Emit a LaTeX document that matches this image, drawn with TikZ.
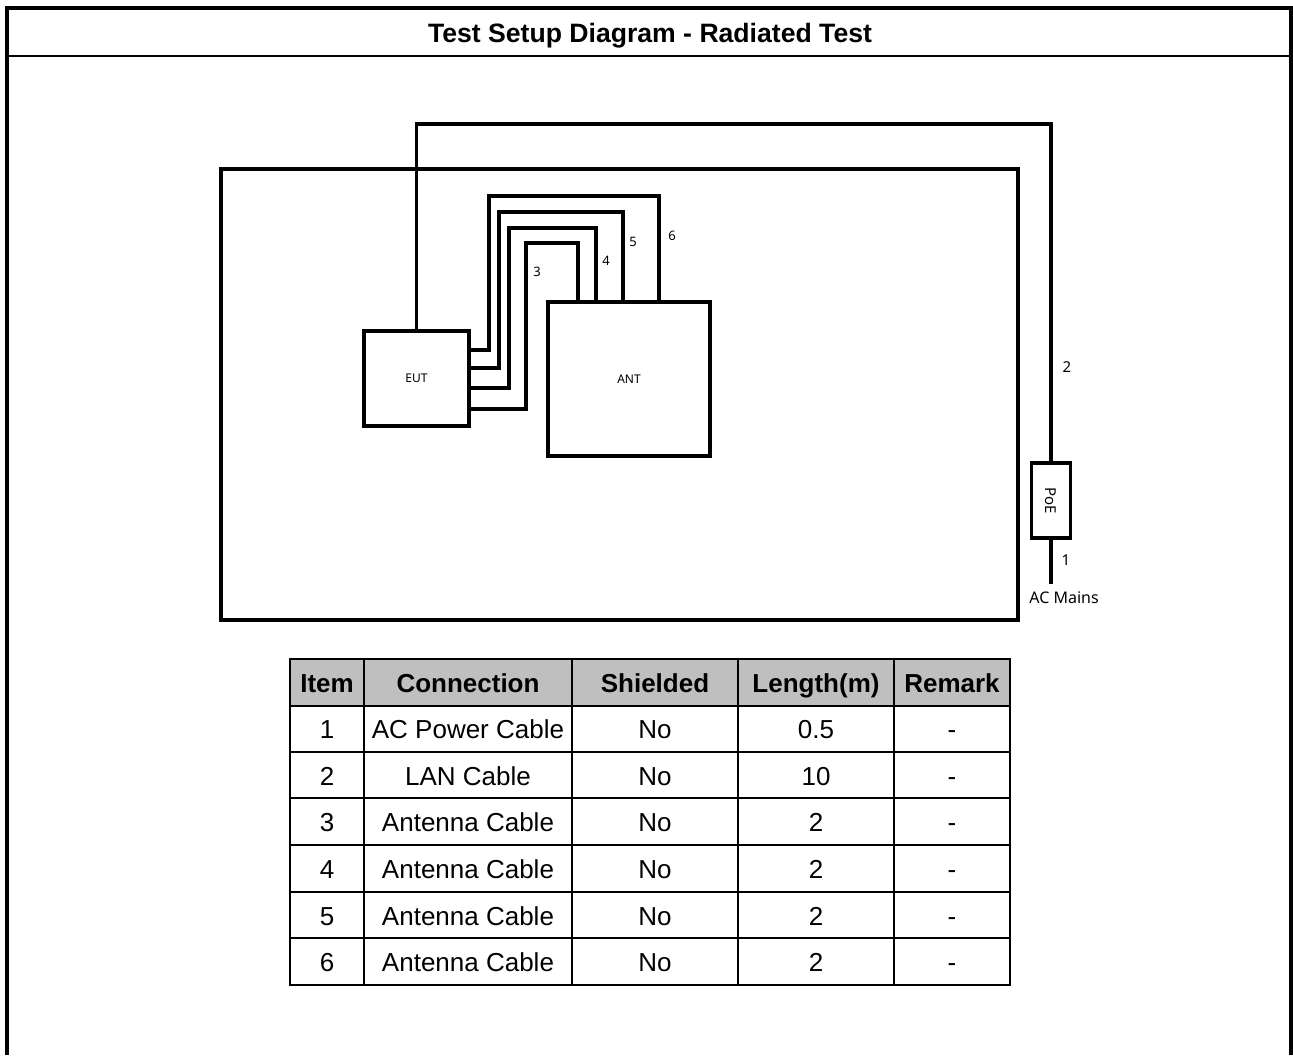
\documentclass[tikz,border=0pt]{standalone}
\usepackage{fontspec}
\setmainfont{Liberation Sans}
\newfontfamily\diag{Noto Sans}
\begin{document}
\begin{tikzpicture}[x=1pt,y=-1pt,
  box/.style={draw,line width=3.5pt,inner sep=0pt,font=\diag\fontsize{12}{14}\selectfont},
  cable/.style={line width=3.5pt,line join=miter},
  lbl/.style={font=\diag\fontsize{13}{15}\selectfont,inner sep=0pt},
  hdr/.style={font=\bfseries\fontsize{26}{30}\selectfont,inner sep=0pt,anchor=base},
  cell/.style={font=\fontsize{26}{30}\selectfont,inner sep=0pt,anchor=base}]
\useasboundingbox (0,0) rectangle (1293,1055);
% outer frame
\draw[line width=4pt] (7,1055) -- (7,8) -- (1291,8) -- (1291,1055);
\draw[line width=2.5pt] (7,56) -- (1291,56);
\node[hdr,font=\bfseries\fontsize{26.6}{30}\selectfont] (title) at (650,42) {Test Setup Diagram - Radiated Test};
% room
\node[box,minimum width=797pt,minimum height=451pt] (room) at (619.5,394.5) {};
\node[box,minimum width=105pt,minimum height=95pt] (eut) at (416.5,378.5) {EUT};
\node[box,minimum width=162pt,minimum height=154pt] (ant) at (629,379) {ANT};
\node[box,minimum width=39pt,minimum height=75pt,font=\diag\fontsize{15}{17}\selectfont] (poe) at (1051,500.5) {\rotatebox{-90}{PoE}};
\coordinate (mains) at (1051,584);
% LAN cable
\draw[cable] (eut.north) |- (poe.north |- 0,124) -- (poe.north);
\draw[cable] (poe.south) -- (mains);
% antenna cables
\draw[cable] (eut.east |- 0,350) -| (489,196) -| (ant.north -| 659,0);
\draw[cable] (eut.east |- 0,368) -| (499,212) -| (ant.north -| 623,0);
\draw[cable] (eut.east |- 0,388) -| (509,228) -| (ant.north -| 596,0);
\draw[cable] (eut.east |- 0,409) -| (526,243) -| (ant.north -| 578,0);
\node[lbl] (l3) at (537,272) {3};
\node[lbl] (l4) at (606,261) {4};
\node[lbl] (l5) at (633,242) {5};
\node[lbl] (l6) at (672,236) {6};
\node[lbl,font=\diag\fontsize{15}{17}\selectfont] (l2) at (1067,367) {2};
\node[lbl,font=\diag\fontsize{15}{17}\selectfont] (l1) at (1066,560) {1};
\node[lbl,font=\diag\fontsize{16}{18}\selectfont] (lm) at (1064,598) {AC Mains};
% table
\fill[black!25] (290,659) rectangle (1010,706);
\foreach \y in {706,752,798,845,892,938} \draw[line width=2pt] (290,\y) -- (1010,\y);
\foreach \x in {364,572,738,894} \draw[line width=2pt] (\x,659) -- (\x,985);
\draw[line width=2.5pt] (290,659) rectangle (1010,985);
\node[hdr] (h1) at (327,692) {Item};
\node[hdr] (h2) at (468,692) {Connection};
\node[hdr] (h3) at (655,692) {Shielded};
\node[hdr] (h4) at (816,692) {Length(m)};
\node[hdr] (h5) at (952,692) {Remark};
\foreach \i/\yy/\con/\len in {1/738/AC Power Cable/0.5, 2/785/LAN Cable/10, 3/831.5/Antenna Cable/2, 4/878.5/Antenna Cable/2, 5/925/Antenna Cable/2, 6/971.5/Antenna Cable/2} {
  \node[cell] (r\i a) at (327,\yy) {\i};
  \node[cell] (r\i b) at (468,\yy) {\con};
  \node[cell] (r\i c) at (655,\yy) {No};
  \node[cell] (r\i d) at (816,\yy) {\len};
  \node[cell] (r\i e) at (952,\yy) {-};
}
\end{tikzpicture}
\end{document}
